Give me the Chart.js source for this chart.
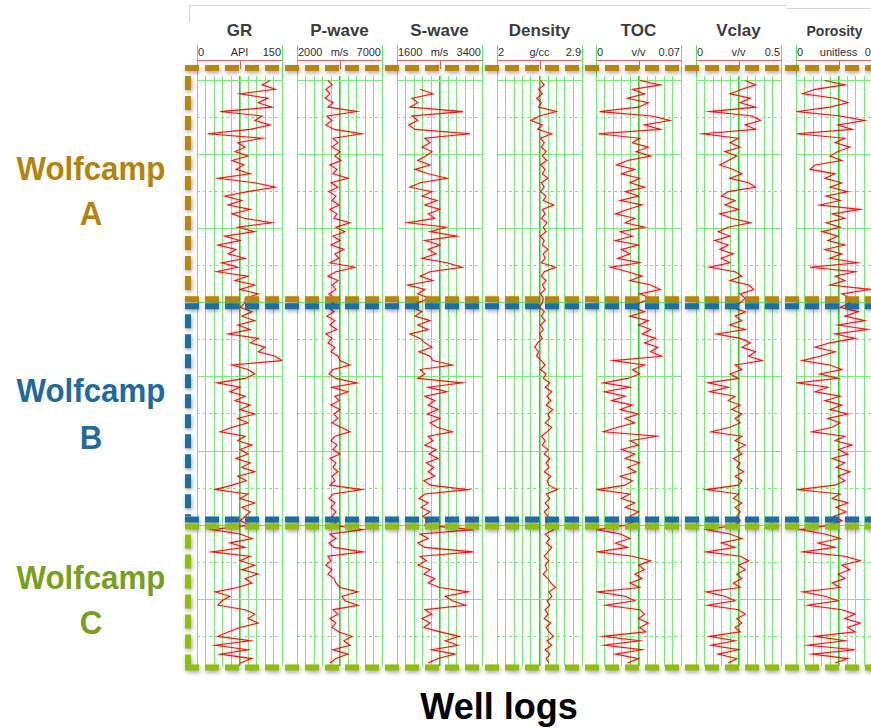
<!DOCTYPE html>
<html>
<head>
<meta charset="utf-8">
<script src="https://cdn.jsdelivr.net/npm/chart.js@4.4.1/dist/chart.umd.min.js"></script>
<style>
  html, body { margin: 0; padding: 0; background: #fff; }
  #wrap { position: relative; width: 871px; height: 728px; overflow: hidden; background: #fff;
          font-family: "Liberation Sans", Arial, Helvetica, sans-serif; }
  .abs { position: absolute; white-space: nowrap; }
  canvas { position: absolute; }
</style>
</head>
<body>
<div id="wrap"></div>
<script>
// ---- depth samples (ft below top of Wolfcamp A) ----
const DEPTH_FT = [0,6,12,18,24,30,36,42,48,54,60,66,72,78,84,90,96,102,108,114,120,126,132,138,144,150,156,162,168,174,180,186,192,198,204,210,216,222,228,234,240,246,252,258,264,270,276,282,288,294,300,306,312,318,324,330,336,342,348,354,360,366,372,378,384,390,396,402,408,414,420,426,432,438,444,450,456,462,468,474,480,486,492,498,504,510,516,522,528,534,540,546,552,558,564,570,576,582,588,594,600,606,612,618,624,630,636,642,648,654,660,666,672,678,684,690,696,702,708,714,720,726,732,738,744,750,756,762,768,774,780,786];

// ---- log curves, one value per depth sample ----
const GR_API = [
  129,115,138,76,125,108,132,41,115,102, 129,94,19,115,72,85,67,90,62,83,
  69,94,37,102,138,90,49,79,55,94, 62,83,132,72,102,49,76,37,69,55,
  85,44,72,35,90,67,102,76,108,85,
  85,76,97,79,102,72,94,55,108,94, 120,108,138,150,62,90,102,85,35,76,
  58,85,67,94,76,102,72,90,62,41, 85,72,97,76,90,69,94,79,102,72,
  87,62,32,90,76,102,79,94,85,76,
  94,26,76,97,58,85,26,94,76,102, 79,108,85,97,72,32,58,44,37,85,
  102,90,108,76,55,37,94,32,90,41, 97,76
];
const PWAVE_MS = [
  3820,4060,3700,3940,3650,4120,3820,5530,3760,4060, 3700,4180,5820,4120,4410,4060,4530,4230,4590,3940,
  4350,4120,5000,4000,4410,3880,4290,4060,4470,3940, 4350,4180,5120,4290,4820,4120,4530,4000,4760,4230,
  4470,3940,5410,4290,3820,4410,4060,4290,3880,4230,
  4120,3820,4180,3760,4230,3940,4350,3700,4060,3820, 4230,4000,4410,4530,5120,4120,3880,4290,5530,4060,
  5000,4230,4470,4000,4530,4180,4410,4060,4590,5120, 4230,4000,4350,4120,4530,3940,4290,4120,4410,4060,
  4230,3940,5820,4120,3880,4230,4000,4290,4060,4350,
  4120,5880,3940,4290,3880,4180,5880,3820,4000,3700, 4060,3820,4180,4290,4530,5590,4650,4820,5590,4120,
  4410,3940,4290,4060,4470,5230,4760,5120,4120,5000, 4290,3940
];
const SWAVE_MS = [
  null,null,2090,2360,1920,2040,1875,3000,1920,2040, 1850,1980,3150,2190,2300,2130,2340,2210,2040,2300,
  1980,2260,2660,2090,1875,2340,2130,2450,2190,2510, 2260,2400,1830,2640,2300,2870,2190,2510,2260,2430,
  2130,2660,2980,2300,2090,2360,1830,2190,2040,2300,
  2040,1920,2130,1980,2300,2040,2260,1875,2090,2190, 2340,2065,2300,2360,2770,2090,2190,2040,2980,2260,
  2660,2190,2400,2260,2470,2240,2510,2300,2450,2770, 2260,2360,2190,2430,2280,2470,2220,2380,2260,2400,
  2170,2300,3110,2190,2065,2260,2110,2300,2150,2260,
  2190,3210,2090,2260,2040,2190,3210,2090,2220,2040, 2300,2170,2400,2260,2510,3110,2620,2770,3050,2190,
  2340,2130,2300,2170,2510,2920,2620,2890,2340,2830, 2470,2260
];
const DENSITY_GCC = [
  2.46,2.50,2.44,2.48,2.42,2.47,2.44,2.63,2.45,2.36, 2.48,2.43,2.58,2.46,2.50,2.47,2.52,2.48,2.53,2.46,
  2.51,2.48,2.54,2.47,2.50,2.46,2.52,2.49,2.60,2.48, 2.51,2.47,2.53,2.49,2.52,2.46,2.50,2.48,2.54,2.49,
  2.51,2.47,2.62,2.50,2.47,2.52,2.48,2.51,2.46,2.49,
  2.48,2.45,2.50,2.47,2.51,2.46,2.49,2.45,2.48,2.43, 2.40,2.44,2.42,2.47,2.51,2.46,2.52,2.49,2.56,2.51,
  2.58,2.53,2.57,2.52,2.59,2.54,2.56,2.51,2.58,2.53, 2.47,2.51,2.48,2.54,2.50,2.56,2.52,2.55,2.50,2.57,
  2.53,2.55,2.64,2.52,2.56,2.51,2.55,2.50,2.54,2.52,
  2.53,2.60,2.51,2.56,2.52,2.58,2.54,2.50,2.55,2.51, 2.53,2.49,2.54,2.57,2.62,2.55,2.58,2.53,2.56,2.51,
  2.54,2.50,2.57,2.52,2.55,2.60,2.53,2.58,2.51,2.56, 2.52,2.55
];
const TOC_VV = [
  0.036,0.053,0.030,0.040,0.026,0.043,0.035,0.003,0.046,0.061, 0.040,0.053,0.002,0.036,0.030,0.043,0.033,0.045,0.026,0.017,
  0.032,0.021,0.036,0.028,0.040,0.024,0.035,0.020,0.038,0.026, 0.016,0.032,0.024,0.040,0.020,0.030,0.016,0.035,0.021,0.028,
  0.018,0.036,0.012,0.026,0.038,0.028,0.045,0.053,0.036,0.046,
  0.036,0.030,0.040,0.028,0.043,0.035,0.045,0.038,0.049,0.040, 0.051,0.045,0.054,0.014,0.040,0.030,0.036,0.026,0.006,0.028,
  0.007,0.024,0.013,0.030,0.020,0.035,0.024,0.032,0.018,0.006, 0.050,0.028,0.035,0.021,0.032,0.024,0.036,0.026,0.033,0.020,
  0.030,0.024,0.001,0.028,0.021,0.032,0.024,0.035,0.028,0.033,
  0.024,0.001,0.020,0.028,0.016,0.026,0.001,0.030,0.045,0.035, 0.040,0.032,0.038,0.028,0.036,0.001,0.024,0.032,0.008,0.036,
  0.040,0.035,0.043,0.036,0.041,0.006,0.036,0.007,0.038,0.016, 0.035,0.026
];
const VCLAY_VV = [
  0.29,0.35,0.27,0.20,0.32,0.26,0.35,0.08,0.33,0.38, 0.29,0.35,0.04,0.25,0.20,0.26,0.17,0.24,0.19,0.14,
  0.22,0.27,0.20,0.31,0.35,0.19,0.15,0.23,0.17,0.25, 0.14,0.21,0.32,0.19,0.13,0.20,0.11,0.19,0.14,0.22,
  0.15,0.20,0.08,0.23,0.27,0.20,0.31,0.34,0.26,0.29,
  0.26,0.21,0.29,0.23,0.27,0.20,0.29,0.12,0.26,0.32, 0.27,0.35,0.31,0.39,0.23,0.27,0.20,0.25,0.07,0.19,
  0.08,0.23,0.19,0.26,0.21,0.27,0.23,0.26,0.20,0.09, 0.27,0.23,0.29,0.24,0.27,0.22,0.26,0.24,0.28,0.23,
  0.27,0.25,0.06,0.25,0.22,0.27,0.23,0.26,0.24,0.26,
  0.23,0.06,0.20,0.27,0.15,0.23,0.06,0.26,0.31,0.25, 0.29,0.24,0.27,0.22,0.26,0.06,0.17,0.23,0.07,0.25,
  0.29,0.24,0.27,0.23,0.26,0.08,0.23,0.09,0.25,0.13, 0.24,0.19
];
const POROSITY = [
  0.068,0.115,0.045,0.016,0.092,0.122,0.080,0.002,0.104,0.162, 0.099,0.132,0.002,0.115,0.092,0.127,0.099,0.080,0.108,0.045,
  0.033,0.092,0.068,0.108,0.080,0.122,0.071,0.104,0.056,0.151, 0.085,0.115,0.071,0.104,0.061,0.099,0.075,0.115,0.068,0.108,
  0.080,0.144,0.033,0.139,0.092,0.115,0.080,0.176,0.108,0.127,
  0.127,0.104,0.146,0.115,0.162,0.099,0.169,0.092,0.139,0.080, 0.045,0.092,0.056,0.014,0.080,0.108,0.056,0.099,0.002,0.075,
  0.045,0.104,0.068,0.108,0.080,0.122,0.075,0.104,0.085,0.038, 0.115,0.092,0.132,0.099,0.122,0.085,0.115,0.094,0.127,0.099,
  0.115,0.092,0.002,0.104,0.085,0.122,0.094,0.118,0.089,0.108,
  0.080,0.009,0.068,0.104,0.052,0.092,0.016,0.115,0.151,0.108, 0.127,0.099,0.115,0.085,0.104,0.016,0.068,0.099,0.028,0.108,
  0.139,0.115,0.151,0.122,0.139,0.045,0.115,0.028,0.139,0.038, 0.122,0.092
];

// ---- track headers and scales ----
const TRACK_NAMES = ['GR', 'P-wave', 'S-wave', 'Density', 'TOC', 'Vclay', 'Porosity'];
const TRACK_UNITS = ['API', 'm/s', 'm/s', 'g/cc', 'v/v', 'v/v', 'unitless'];
const TRACK_MIN   = [0, 2000, 1600, 2, 0, 0, 0];
const TRACK_MAX   = [150, 7000, 3400, 2.9, 0.07, 0.5, 0.2];
const TRACK_VALUES = [GR_API, PWAVE_MS, SWAVE_MS, DENSITY_GCC, TOC_VV, VCLAY_VV, POROSITY];

// depth grid lines (every 50 ft, alternating solid / dashed)
const GRID_DEPTHS = [0,50,100,150,200,250,300,350,400,450,500,550,600,650,700,750];

// ---- formation zones ----
const ZONE_LETTERS = ['A', 'B', 'C'];
const ZONE_TOP_FT  = [0, 300, 597];
const ZONE_BASE_FT = [300, 597, 790];

// ---- styling / layout ----
const ZONE_BORDER = ['#b8860b', '#1d6ea3', '#8fbe0c'];
const ZONE_TEXT   = ['#b5820c', '#1e6b9c', '#78a01e'];
const TRACK_LEFT = [197, 297, 397, 497, 596, 696, 796];
const TRACK_W = 85;
const LOG_TOP = 76, LOG_BOTTOM = 666;
const DEPTH_MIN = -6, DEPTH_MAX = 790;
const W = 871, H = 728;

const wrap = document.getElementById('wrap');

function addText(str, x, baseline, size, o) {
  const el = document.createElement('div');
  el.className = 'abs';
  el.textContent = str;
  el.style.fontSize = size + 'px';
  el.style.lineHeight = size + 'px';
  el.style.fontWeight = o.bold ? 'bold' : 'normal';
  el.style.color = o.color || '#333';
  el.style.top = (baseline - 0.8465 * size) + 'px';
  const sx = o.sx ? ' scaleX(' + o.sx + ')' : '';
  if (o.align === 'center') {
    el.style.left = x + 'px';
    el.style.transform = 'translateX(-50%)' + sx;
  } else if (o.align === 'right') {
    el.style.right = (W - x) + 'px';
  } else {
    el.style.left = x + 'px';
  }
  wrap.appendChild(el);
  return el;
}

function addBox(left, top, width, height, color) {
  const el = document.createElement('div');
  el.className = 'abs';
  Object.assign(el.style, { left: left + 'px', top: top + 'px', width: width + 'px', height: height + 'px', background: color });
  wrap.appendChild(el);
}

// frame lines along the top
addBox(189, 5, 598, 1, '#d6d6d6');
addBox(787, 8, 84, 1, '#d6d6d6');
addBox(189, 5, 1, 17, '#d6d6d6');

// track headers
TRACK_NAMES.forEach((name, t) => {
  const left = TRACK_LEFT[t], mid = left + TRACK_W / 2;
  const isSmall = name === 'Porosity';
  addText(name, isSmall ? mid - 4 : mid, 36, isSmall ? 14 : 17, { bold: true, align: 'center', color: '#3c3c3c' });
  addText(String(TRACK_MIN[t]), left + 1, 56, 11, { color: '#2e2e2e' });
  addText(TRACK_UNITS[t], mid, 56, 11, { align: 'center', color: '#2e2e2e' });
  addText(String(TRACK_MAX[t]), left + TRACK_W - 1, 56, 11, { align: 'right', color: '#2e2e2e' });
  addBox(left, 45, 1, LOG_TOP - 45, '#5fe85f');
  addBox(left + TRACK_W, 45, 1, LOG_TOP - 45, '#5fe85f');
  addBox(left, 60, TRACK_W, 1, '#f06060');
  addBox(Math.round(mid), 60, 1, 9, '#f06060');
});

// soft pink halo around the log traces
const traceHalo = {
  id: 'traceHalo',
  beforeDatasetsDraw(chart) {
    chart.ctx.save();
    chart.ctx.shadowColor = 'rgba(255,90,90,0.55)';
    chart.ctx.shadowBlur = 2.5;
  },
  afterDatasetsDraw(chart) { chart.ctx.restore(); }
};

// one chart per log track
TRACK_VALUES.forEach((vals, t) => {
  const c = document.createElement('canvas');
  c.width = TRACK_W + 2;
  c.height = LOG_BOTTOM - LOG_TOP;
  c.style.left = (TRACK_LEFT[t] - 1) + 'px';
  c.style.top = LOG_TOP + 'px';
  c.style.zIndex = 1;
  wrap.appendChild(c);
  const min = TRACK_MIN[t], max = TRACK_MAX[t];
  new Chart(c, {
    type: 'line',
    data: {
      datasets: [{
        data: DEPTH_FT.map((d, i) => ({ x: vals[i], y: d })),
        borderColor: 'rgba(240,0,0,0.9)',
        borderWidth: 1.1,
        borderDash: [1000, 0],
        pointRadius: 0,
        tension: 0,
        fill: false,
        spanGaps: false
      }]
    },
    options: {
      indexAxis: 'y',
      responsive: false,
      animation: false,
      events: [],
      layout: { padding: { left: 1, right: 1, top: 0, bottom: 0 } },
      plugins: { legend: { display: false }, tooltip: { enabled: false } },
      scales: {
        x: {
          type: 'linear', position: 'top', min: min, max: max,
          afterBuildTicks: s => { s.ticks = Array.from({ length: 11 }, (_, k) => ({ value: min + (max - min) * k / 10 })); },
          ticks: { display: false },
          border: { display: false },
          grid: {
            drawTicks: false,
            color: ctx => ctx.index === 5 ? '#1fd81f' : '#72ee72',
            lineWidth: ctx => ctx.index === 5 ? 1.6 : 1
          }
        },
        y: {
          type: 'linear', reverse: true, min: DEPTH_MIN, max: DEPTH_MAX,
          afterBuildTicks: s => { s.ticks = GRID_DEPTHS.map(v => ({ value: v })); },
          ticks: { display: false },
          border: { display: false, dash: ctx => (ctx.index % 2 ? [3, 3] : []) },
          grid: { drawTicks: false, color: '#76ee76', lineWidth: 1 }
        }
      }
    },
    plugins: [traceHalo]
  });
});

// zone outlines drawn over the tracks, placed with the shared depth scale
const zoneOutline = {
  id: 'zoneOutline',
  afterDraw(chart) {
    const ys = chart.scales.y, a = chart.chartArea, ctx = chart.ctx;
    const last = ZONE_TOP_FT.length - 1;
    ZONE_TOP_FT.forEach((top, i) => {
      const y0 = i === 0 ? a.top - 8 : ys.getPixelForValue(top) + 3.5;
      const y1 = i === last ? a.bottom + 1.5 : ys.getPixelForValue(ZONE_BASE_FT[i]) - 3.5;
      const x0 = a.left, x1 = chart.width + 20;
      ctx.save();
      ctx.strokeStyle = ZONE_BORDER[i];
      ctx.lineWidth = 6;
      ctx.lineCap = 'butt';
      ctx.setLineDash([14, 6]);
      ctx.shadowColor = 'rgba(0,0,0,0.35)';
      ctx.shadowBlur = 4;
      ctx.shadowOffsetX = 1;
      ctx.shadowOffsetY = 2;
      [[x0 - 3, y0, x1, y0], [x0, y0 + 8, x0, y1 - 3], [x0 - 3, y1, x1, y1]].forEach(s => {
        ctx.beginPath();
        ctx.moveTo(s[0], s[1]);
        ctx.lineTo(s[2], s[3]);
        ctx.stroke();
      });
      ctx.restore();
    });
  }
};

const ov = document.createElement('canvas');
ov.width = W; ov.height = H;
ov.style.left = '0px'; ov.style.top = '0px'; ov.style.zIndex = 2; ov.style.pointerEvents = 'none';
wrap.appendChild(ov);
new Chart(ov, {
  type: 'scatter',
  data: { datasets: [] },
  options: {
    responsive: false, animation: false, events: [],
    layout: { padding: { left: 188, right: 0, top: LOG_TOP, bottom: H - LOG_BOTTOM } },
    plugins: { legend: { display: false }, tooltip: { enabled: false } },
    scales: {
      x: { display: false, min: 0, max: 1 },
      y: { display: false, reverse: true, min: DEPTH_MIN, max: DEPTH_MAX }
    }
  },
  plugins: [zoneOutline]
});

// zone names
const ZONE_LABEL_BASE = [[180, 225], [402, 449], [589, 634]];
ZONE_LETTERS.forEach((letter, i) => {
  addText('Wolfcamp', 91, ZONE_LABEL_BASE[i][0], 34, { bold: true, align: 'center', color: ZONE_TEXT[i], sx: 0.92 });
  addText(letter, 91, ZONE_LABEL_BASE[i][1], 34, { bold: true, align: 'center', color: ZONE_TEXT[i], sx: 0.92 });
});

// figure caption
addText('Well logs', 499, 719, 36, { bold: true, align: 'center', color: '#000' });
</script>
</body>
</html>
